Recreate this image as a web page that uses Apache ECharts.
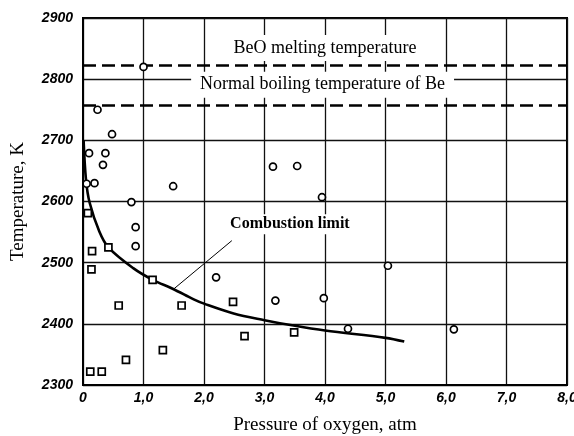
<!DOCTYPE html>
<html>
<head>
<meta charset="utf-8">
<title>Combustion limit</title>
<script src="https://cdn.jsdelivr.net/npm/echarts@6/dist/echarts.min.js"></script>
<style>
  html, body { margin: 0; padding: 0; background: #fff; }
  #chart { width: 574px; height: 436px; }
</style>
</head>
<body>
<div id="chart"></div>
<script>
// pressure of oxygen (atm) / temperature (K)
const circP = [1.0, 0.24, 0.48, 0.10, 0.37, 0.33, 0.06, 0.19, 1.49, 0.80, 0.87, 0.87, 2.20, 3.14, 3.54, 3.95, 5.04, 3.98, 3.18, 4.38, 6.13]
const circT = [2820, 2750, 2710, 2679, 2679, 2660, 2629, 2630, 2625, 2599, 2558, 2527, 2476, 2657, 2658, 2607, 2495, 2442, 2438, 2392, 2391]

const sqP = [0.08, 0.15, 0.42, 0.14, 1.15, 0.59, 1.63, 2.48, 2.67, 3.49, 1.32, 0.71, 0.12, 0.31]
const sqT = [2581, 2519, 2525, 2489, 2472, 2430, 2430, 2436, 2380, 2386, 2357, 2341, 2322, 2322]

// combustion limit curve
const curveP = [0.01, 0.05, 0.11, 0.27, 0.42, 0.83, 1.15, 1.49, 1.83, 2.0, 2.49, 3.0, 3.43, 4.0, 5.0, 5.31]
const curveT = [2700, 2635, 2598, 2551, 2525, 2491, 2472, 2457, 2440, 2433, 2417, 2406, 2398, 2389, 2377, 2371]

// leader from the label to the curve
const leaderP = [1.5, 2.46]
const leaderT = [2457, 2536]

const meltT = 2823 // BeO melting temperature
const boilT = 2757 // normal boiling temperature of Be

const xTicks = [0, 1, 2, 3, 4, 5, 6, 7, 8]
const yTicks = [2300, 2400, 2500, 2600, 2700, 2800, 2900]

const zip = (a, b) => a.map((v, i) => [v, b[i]])

const tickFont = {
  color: '#000',
  fontFamily: 'Liberation Sans',
  fontWeight: 'bold',
  fontStyle: 'italic',
  fontSize: 14,
}
const noteFont = {
  color: '#000',
  fontFamily: 'Liberation Serif',
  fontSize: 18,
  backgroundColor: '#fff',
}
const markerStyle = { color: '#fff', borderColor: '#000', borderWidth: 1.7, opacity: 1 }

const option = {
  animation: false,
  grid: {
    left: 83,
    right: 7,
    top: 18,
    bottom: 51,
    outerBoundsMode: 'none',
    containLabel: false,
    show: true,
    borderColor: '#000',
    borderWidth: 2,
  },
  xAxis: {
    type: 'value',
    min: xTicks[0],
    max: xTicks[xTicks.length - 1],
    interval: 1,
    name: 'Pressure of oxygen, atm',
    nameLocation: 'middle',
    nameGap: 31,
    nameTextStyle: { color: '#000', fontFamily: 'Liberation Serif', fontSize: 19 },
    axisLine: { show: true, lineStyle: { color: '#000', width: 2 } },
    axisTick: { show: false },
    axisLabel: {
      ...tickFont,
      margin: 6,
      hideOverlap: false,
      formatter: v => (v === 0 ? '0' : v.toFixed(1).replace('.', ',')),
    },
    splitLine: { show: true, lineStyle: { color: '#111', width: 1.3 } },
  },
  yAxis: {
    type: 'value',
    min: yTicks[0],
    max: yTicks[yTicks.length - 1],
    interval: 100,
    name: 'Temperature, K',
    nameLocation: 'middle',
    nameGap: 55,
    nameTextStyle: { color: '#000', fontFamily: 'Liberation Serif', fontSize: 19 },
    axisLine: { show: true, lineStyle: { color: '#000', width: 2 } },
    axisTick: { show: false },
    axisLabel: { ...tickFont, margin: 10, formatter: v => String(v) },
    splitLine: { show: true, lineStyle: { color: '#111', width: 1.3 } },
  },
  series: [
    {
      name: 'notes',
      type: 'scatter',
      symbolSize: 0,
      z: 3,
      silent: true,
      itemStyle: { opacity: 1 },
      label: { show: true, position: 'inside' },
      data: [
        { value: [4.0, 2851], label: { ...noteFont, formatter: 'BeO melting temperature', padding: [5, 6, 3, 6] } },
        { value: [3.96, 2791], label: { ...noteFont, formatter: 'Normal boiling temperature of Be', padding: [5, 9, 3, 9] } },
        { value: [3.42, 2563], label: { ...noteFont, fontSize: 16, fontWeight: 'bold', formatter: 'Combustion limit', padding: [2, 4] } },
      ],
      markLine: {
        silent: true,
        symbol: 'none',
        label: { show: false },
        lineStyle: { color: '#000', width: 2.6, type: [13, 6], opacity: 1 },
        data: [{ yAxis: meltT }, { yAxis: boilT }],
      },
    },
    {
      name: 'leader',
      type: 'line',
      data: zip(leaderP, leaderT),
      showSymbol: false,
      lineStyle: { color: '#000', width: 1 },
      z: 4,
    },
    {
      name: 'Combustion limit',
      type: 'line',
      data: zip(curveP, curveT),
      smooth: 0.35,
      showSymbol: false,
      lineStyle: { color: '#000', width: 2.6 },
      z: 4,
    },
    {
      name: 'circles',
      type: 'scatter',
      symbol: 'circle',
      symbolSize: 7,
      data: zip(circP, circT),
      itemStyle: markerStyle,
      z: 5,
    },
    {
      name: 'squares',
      type: 'scatter',
      symbol: 'rect',
      symbolSize: 7,
      data: zip(sqP, sqT),
      itemStyle: markerStyle,
      z: 5,
    },
  ],
}

const myChart = echarts.init(document.getElementById('chart'))
myChart.setOption(option)
</script>
</body>
</html>
